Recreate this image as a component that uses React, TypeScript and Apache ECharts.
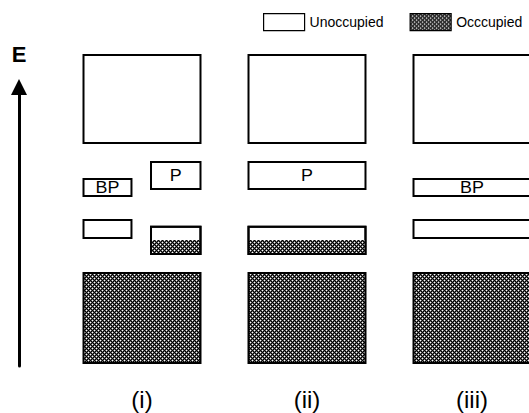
import React, { useEffect, useRef } from 'react';
import * as echarts from 'echarts';

// ---- data (energy in arbitrary units: 0 = bottom of valence band, 100 = top of conduction band)
const panels = ['(i)', '(ii)', '(iii)'];
const legendNames = ['Unoccupied', 'Occcupied'];
const conductionBand = [71.4, 100];
const valenceBand = [0, 29.2];
const polaronUpper = [56.5, 65.3];
const polaronLower = [35.4, 44.2];
const polaronLowerFilledTo = 39.9;
const bipolaronUpper = [54.2, 59.7];
const bipolaronLower = [40.6, 46.4];
const stateLabels = ['', 'P', 'BP'];
// gap states shown in each panel: [panel index, species (1 = P, 2 = BP), column (0 full, 1 left, 2 right)]
const panelStates = [
  [0, 2, 1],
  [0, 1, 2],
  [1, 1, 0],
  [2, 2, 0],
];

const FONT = 'Liberation Sans, Arial, sans-serif';

// build records: [panel, column, lo, hi, labelIndex]
const unoccupied: number[][] = [];
const occupied: number[][] = []; // [panel, column, fillLo, fillHi, lo, hi]
panels.forEach((_, p) => {
  unoccupied.push([p, 0, conductionBand[0], conductionBand[1], 0]);
  occupied.push([p, 0, valenceBand[0], valenceBand[1], valenceBand[0], valenceBand[1]]);
});
panelStates.forEach(([p, sp, col]) => {
  const up = sp === 1 ? polaronUpper : bipolaronUpper;
  const low = sp === 1 ? polaronLower : bipolaronLower;
  unoccupied.push([p, col, up[0], up[1], sp]);
  unoccupied.push([p, col, low[0], low[1], 0]);
  if (sp === 1) occupied.push([p, col, low[0], polaronLowerFilledTo, low[0], low[1]]);
});

const PANEL_FRAC = 0.709;
const COLS = [
  [0, 1],
  [0, 0.41],
  [0.577, 1],
];

function rectOf(api: any, panel: number, col: number, lo: number, hi: number) {
  const bw = api.size([1, 0])[0];
  const top = api.coord([panel, hi]);
  const bot = api.coord([panel, lo]);
  const pw = bw * PANEL_FRAC;
  const left = top[0] - pw / 2;
  const f = COLS[col];
  return { x: left + f[0] * pw, y: top[1], width: (f[1] - f[0]) * pw, height: bot[1] - top[1] };
}

function makePattern() {
  const n = 4;
  const c = document.createElement('canvas');
  c.width = n;
  c.height = n;
  const ctx = c.getContext('2d')!;
  const img = ctx.createImageData(n, n);
  const v: number[] = new Array(n * n).fill(0);
  const dots = [
    [0, 0],
    [2, 2],
  ];
  dots.forEach(([x, y]) => {
    v[y * n + x] = 255;
    [[1, 0], [-1, 0], [0, 1], [0, -1]].forEach(([dx, dy]) => {
      const xx = (x + dx + n) % n;
      const yy = (y + dy + n) % n;
      if (v[yy * n + xx] < 100) v[yy * n + xx] = 100;
    });
  });
  for (let i = 0; i < n * n; i++) {
    img.data[i * 4] = v[i];
    img.data[i * 4 + 1] = v[i];
    img.data[i * 4 + 2] = v[i];
    img.data[i * 4 + 3] = 255;
  }
  ctx.putImageData(img, 0, 0);
  return { image: c, repeat: 'repeat', imageWidth: n, imageHeight: n } as any;
}

export default function App() {
  const ref = useRef<HTMLDivElement>(null);
  useEffect(() => {
    const chart = echarts.init(ref.current!, null, { renderer: 'svg' });
    const pattern = makePattern();
    chart.setOption({
      animation: false,
      backgroundColor: '#fff',
      legend: {
        top: 8,
        left: 258,
        itemWidth: 41,
        itemHeight: 17,
        itemGap: 26,
        icon: 'rect',
        selectedMode: false,
        textStyle: { fontSize: 14, fontFamily: FONT, color: '#000' },
        itemStyle: { borderColor: '#000', borderWidth: 1.2 },
        data: [
          { name: legendNames[0], itemStyle: { color: '#fff' } },
          { name: legendNames[1], itemStyle: { color: pattern } },
        ],
      },
      grid: [
        { left: 59.5, width: 495, top: 55, bottom: 50, outerBoundsMode: 'none', containLabel: false },
        { left: 19, width: 1, top: 87, bottom: 47, outerBoundsMode: 'none', containLabel: false },
      ],
      xAxis: [
        {
          type: 'category',
          data: panels,
          gridIndex: 0,
          axisLine: { show: false },
          axisTick: { show: false },
          splitLine: { show: false },
          axisLabel: { fontSize: 24, fontFamily: FONT, color: '#000', margin: 24 },
        },
        { type: 'value', gridIndex: 1, show: false, min: 0, max: 1 },
      ],
      yAxis: [
        { type: 'value', gridIndex: 0, min: 0, max: 100, show: false },
        {
          type: 'value',
          gridIndex: 1,
          min: 0,
          max: 1,
          name: 'E',
          nameLocation: 'end',
          nameGap: 22,
          nameTextStyle: { fontSize: 22, fontWeight: 'bold', fontFamily: FONT, color: '#000' },
          axisLine: {
            show: true,
            onZero: false,
            symbol: ['none', 'triangle'],
            symbolSize: [16, 16],
            lineStyle: { color: '#000', width: 3 },
          },
          axisTick: { show: false },
          axisLabel: { show: false },
          splitLine: { show: false },
        },
      ],
      series: [
        {
          name: legendNames[0],
          type: 'custom',
          xAxisIndex: 0,
          yAxisIndex: 0,
          z: 2,
          silent: true,
          itemStyle: { color: '#fff', borderColor: '#000' },
          data: unoccupied.map((r) => [r[0], r[3]]),
          renderItem: (params: any, api: any) => {
            const r = unoccupied[params.dataIndex];
            const s = rectOf(api, r[0], r[1], r[2], r[3]);
            const children: any[] = [
              { type: 'rect', shape: s, style: { fill: '#fff', stroke: '#000', lineWidth: 2 } },
            ];
            const label = stateLabels[r[4]];
            if (label) {
              children.push({
                type: 'text',
                x: s.x + s.width / 2,
                y: s.y + s.height / 2,
                scaleX: 1.12,
                style: {
                  text: label,
                  fontSize: 16,
                  fontFamily: FONT,
                  fill: '#000',
                  align: 'center',
                  verticalAlign: 'middle',
                },
              });
            }
            return { type: 'group', children };
          },
        },
        {
          name: legendNames[1],
          type: 'custom',
          xAxisIndex: 0,
          yAxisIndex: 0,
          z: 3,
          silent: true,
          itemStyle: { color: pattern, borderColor: '#000' },
          data: occupied.map((r) => [r[0], r[3]]),
          renderItem: (params: any, api: any) => {
            const r = occupied[params.dataIndex];
            const f = rectOf(api, r[0], r[1], r[2], r[3]);
            const w = rectOf(api, r[0], r[1], r[4], r[5]);
            return {
              type: 'group',
              children: [
                { type: 'rect', shape: f, style: { fill: pattern } },
                { type: 'rect', shape: w, style: { fill: 'none', stroke: '#000', lineWidth: 2 } },
              ],
            };
          },
        },
      ],
    });
    return () => chart.dispose();
  }, []);
  return (
    <div
      ref={ref}
      style={{ position: 'fixed', left: 0, top: 0, width: 529, height: 413, background: '#fff' }}
    />
  );
}
